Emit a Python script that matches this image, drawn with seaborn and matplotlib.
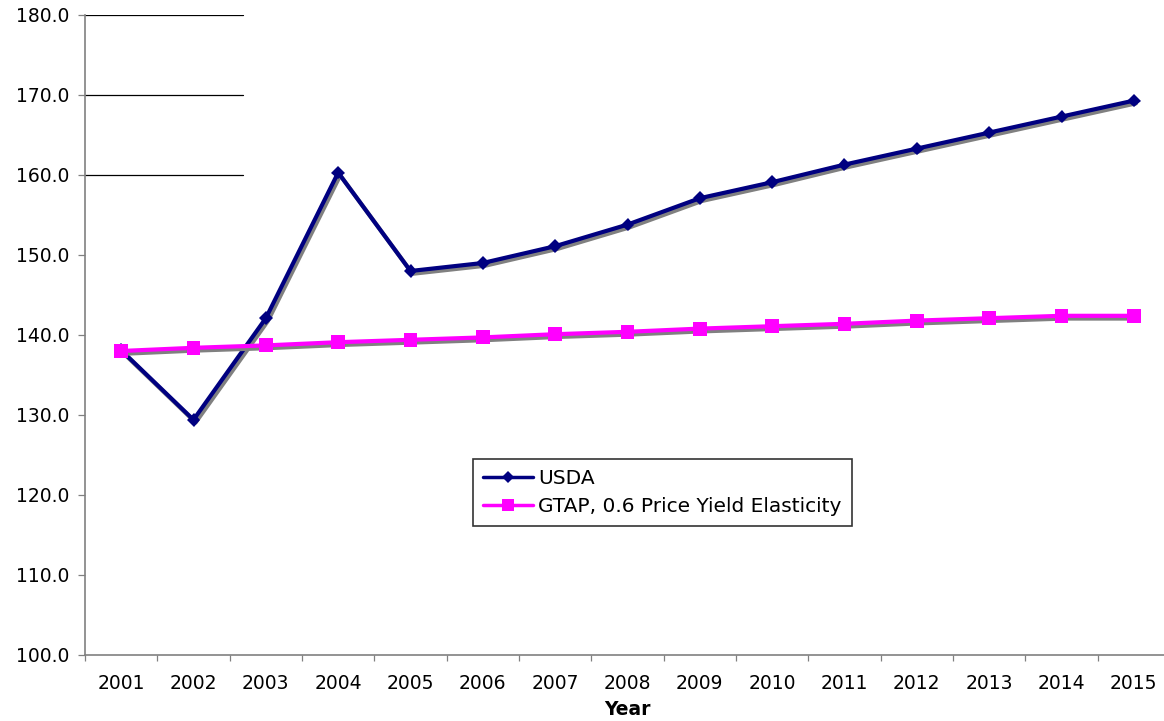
import numpy as np
import pandas as pd
import matplotlib
matplotlib.use("Agg")
import matplotlib.pyplot as plt
import matplotlib.patheffects as pe
from matplotlib.lines import Line2D
import seaborn as sns

years = ["2001", "2002", "2003", "2004", "2005", "2006", "2007", "2008",
         "2009", "2010", "2011", "2012", "2013", "2014", "2015"]
usda = [138.1, 129.4, 142.1, 160.3, 148.0, 149.0, 151.1, 153.8,
        157.1, 159.1, 161.3, 163.3, 165.3, 167.3, 169.3]
gtap = [138.0, 138.4, 138.7, 139.1, 139.4, 139.7, 140.1, 140.4,
        140.8, 141.1, 141.4, 141.8, 142.1, 142.4, 142.4]
series_names = ["USDA", "GTAP, 0.6 Price Yield Elasticity"]
y_ticks = [100, 110, 120, 130, 140, 150, 160, 170, 180]

sns.set_theme(style="white")
plt.rcParams['font.family'] = ['DejaVu Sans']

FS = 13.5
LFS = 14.5

idx = np.arange(len(years))
df = pd.DataFrame({
    "x": np.concatenate([idx, idx]),
    "value": usda + gtap,
    "series": [series_names[0]] * len(years) + [series_names[1]] * len(years),
})

fig = plt.figure(figsize=(11.64, 7.21), dpi=100)
ax = fig.add_axes([85/1164, 1 - 655/721, 1085/1164, 640/721])

sns.lineplot(data=df, x="x", y="value", hue="series", style="series",
             palette={series_names[0]: "#000080", series_names[1]: "#FF00FF"},
             markers={series_names[0]: "D", series_names[1]: "s"},
             dashes=False, linewidth=3, markeredgewidth=0, ax=ax, legend=False)

shadow = [pe.SimpleLineShadow(offset=(1.5, -2.0), shadow_color="#808080", alpha=1.0), pe.Normal()]
for line, ms in zip(ax.get_lines(), [7, 10]):
    line.set_markersize(ms)
    line.set_path_effects(shadow)

# partial gridlines at top-left
for yv in [160, 170, 180]:
    ax.axhline(yv, xmin=0, xmax=0.146, color="black", linewidth=0.9, zorder=0)

ax.set_xlim(-0.5, len(years) - 0.5)
ax.set_ylim(100, 180)
ax.set_yticks(y_ticks)
ax.set_yticklabels([f"{v:.1f}" for v in y_ticks])
ax.set_xticks(idx)
ax.set_xticklabels(years)
ax.set_xticks(np.arange(len(years) + 1) - 0.5, minor=True)

ax.tick_params(axis="y", which="major", direction="out", length=5, width=0.9,
               color="#808080", labelsize=FS, pad=6, left=True, labelcolor="black")
ax.tick_params(axis="x", which="major", length=0, labelsize=FS, pad=14, bottom=True,
               labelcolor="black")
ax.tick_params(axis="x", which="minor", direction="out", length=4, width=0.9,
               color="#808080", bottom=True)

for s in ["top", "right"]:
    ax.spines[s].set_visible(False)
for s in ["left", "bottom"]:
    ax.spines[s].set_color("#808080")
    ax.spines[s].set_linewidth(1.2)

ax.set_xlabel("Year", fontsize=FS, fontweight="bold", labelpad=5, color="black")
ax.set_ylabel("")
ax.grid(False)

handles = [Line2D([], [], color="#000080", marker="D", markersize=6, linewidth=2.5, markeredgewidth=0),
           Line2D([], [], color="#FF00FF", marker="s", markersize=8, linewidth=2.5, markeredgewidth=0)]
leg = ax.legend(handles, series_names, loc="upper left",
                bbox_to_anchor=(473/1164, 1 - 459/721), bbox_transform=fig.transFigure,
                borderaxespad=0, frameon=True, fancybox=False, shadow=False,
                fontsize=LFS, handlelength=2.5, handletextpad=0.25,
                borderpad=0.5, labelspacing=0.45)
leg.get_frame().set_edgecolor("black")
leg.get_frame().set_linewidth(1.2)
for t in leg.get_texts():
    t.set_color("black")

fig.savefig("out.png", dpi=100, facecolor="white")
